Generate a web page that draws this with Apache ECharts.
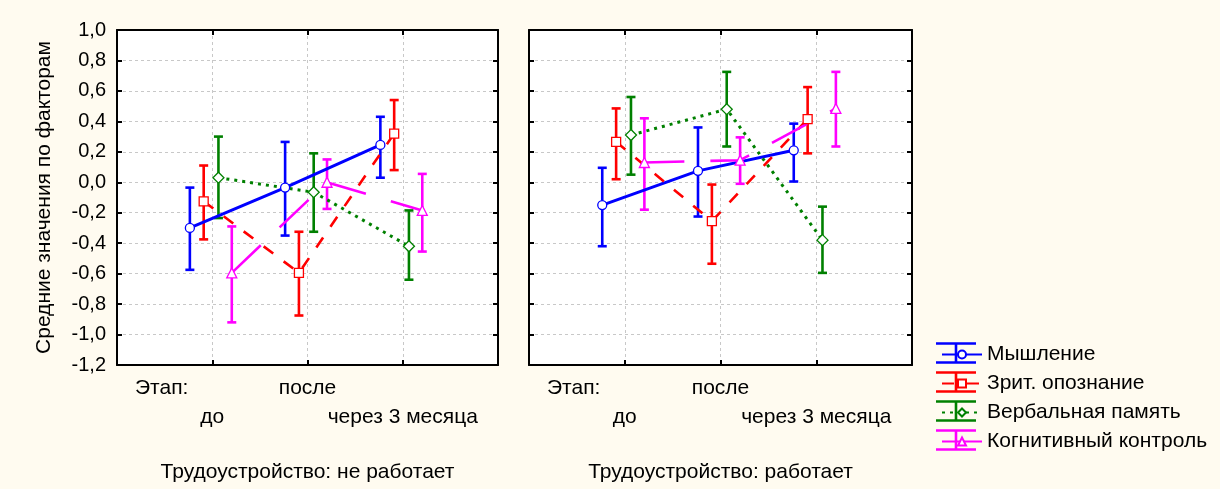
<!DOCTYPE html>
<html>
<head>
<meta charset="utf-8">
<script src="https://cdn.jsdelivr.net/npm/echarts@6/dist/echarts.min.js"></script>
<style>
html,body{margin:0;padding:0;background:#fffbf0;}
#c{width:1220px;height:489px;}
</style>
</head>
<body>
<div id="c"></div>
<script>
// ---- data ----
const stages = ['до', 'после', 'через 3 месяца'];
const panelTitles = ['Трудоустройство: не работает', 'Трудоустройство: работает'];
const factors = ['Мышление', 'Зрит. опознание', 'Вербальная память', 'Когнитивный контроль'];

// Трудоустройство: не работает (rows = factors, cols = stages)
const meanNotWorking = [
  [-0.30, -0.035, 0.245],
  [-0.125, -0.595, 0.32],
  [0.03, -0.065, -0.42],
  [-0.595, 0.0, -0.185]
];
const lowNotWorking = [
  [-0.575, -0.35, 0.03],
  [-0.375, -0.875, 0.08],
  [-0.235, -0.325, -0.64],
  [-0.92, -0.175, -0.455]
];
const highNotWorking = [
  [-0.035, 0.265, 0.43],
  [0.11, -0.325, 0.54],
  [0.30, 0.19, -0.185],
  [-0.29, 0.15, 0.055]
];
// Трудоустройство: работает
const meanWorking = [
  [-0.15, 0.075, 0.21],
  [0.265, -0.255, 0.415],
  [0.31, 0.48, -0.38],
  [0.13, 0.145, 0.485]
];
const lowWorking = [
  [-0.42, -0.225, 0.005],
  [0.02, -0.535, 0.19],
  [0.05, 0.235, -0.595],
  [-0.18, -0.01, 0.235]
];
const highWorking = [
  [0.095, 0.36, 0.385],
  [0.485, -0.015, 0.625],
  [0.56, 0.725, -0.16],
  [0.42, 0.295, 0.725]
];
const yMin = -1.2, yMax = 1.0, yStep = 0.2;

// ---- styles ----
const FONT = 'Liberation Sans, Arial, sans-serif';
const colors = ['#0000ff', '#ff0000', '#008000', '#ff00ff'];
const offsets = [-0.235, -0.09, 0.065, 0.205];
const symbols = ['circle', 'rect', 'diamond', 'triangle'];
const symbolSizes = [9, 9, 11, 10];
const lineTypes = ['solid', [12, 13], [3, 5], [40, 26]];
const lineWidths = [3, 2.6, 3, 2.6];

const chart = echarts.init(document.getElementById('c'));

const grids = [
  {left: 117, top: 30, width: 381, height: 335, show: true, backgroundColor: '#ffffff', borderWidth: 0},
  {left: 529, top: 30, width: 383, height: 335, show: true, backgroundColor: '#ffffff', borderWidth: 0}
];

const axisLine = {show: true, onZero: false, lineStyle: {color: '#000', width: 2}};
const tick = {show: true, inside: true, length: 5, lineStyle: {color: '#000', width: 2}};
const gridSplit = {show: true, lineStyle: {color: '#c8c8c8', type: [3, 3], width: 1}};
const xAxes = [], yAxes = [];
[0, 1].forEach(g => {
  xAxes.push({
    type: 'value', gridIndex: g, min: 0, max: 4, interval: 1, position: 'bottom',
    axisLine: axisLine, axisTick: tick, splitLine: gridSplit,
    axisLabel: {
      show: true, margin: 9, lineHeight: 29, fontSize: 21, color: '#000', fontFamily: FONT,
      formatter: v => {
        const i = Math.round(v) - 1;
        if (i < 0 || i >= stages.length) return '';
        return i % 2 === 0 ? '\n' + stages[i] : stages[i];
      }
    },
    name: panelTitles[g], nameLocation: 'middle', nameGap: 97,
    nameTextStyle: {fontSize: 21, color: '#000', fontFamily: FONT}
  });
  xAxes.push({
    type: 'value', gridIndex: g, min: 0, max: 4, interval: 1, position: 'top',
    axisLine: axisLine, axisTick: tick,
    splitLine: {show: false}, axisLabel: {show: false}
  });
  yAxes.push({
    type: 'value', gridIndex: g, min: yMin, max: yMax, interval: yStep, position: 'left',
    axisLine: axisLine, axisTick: tick, splitLine: gridSplit,
    axisLabel: {
      show: g === 0, margin: 11, fontSize: 20, color: '#000', fontFamily: FONT,
      formatter: v => v.toFixed(1).replace('.', ',').replace('-0,0', '0,0')
    },
    name: g === 0 ? 'Средние значения по факторам' : '',
    nameLocation: 'middle', nameGap: 62, nameRotate: 90,
    nameTextStyle: {fontSize: 21, color: '#000', fontFamily: FONT}
  });
  yAxes.push({
    type: 'value', gridIndex: g, min: yMin, max: yMax, interval: yStep, position: 'right',
    axisLine: axisLine, axisTick: tick,
    splitLine: {show: false}, axisLabel: {show: false}
  });
});

const panelMeans = [meanNotWorking, meanWorking];
const panelLows = [lowNotWorking, lowWorking];
const panelHighs = [highNotWorking, highWorking];

const series = [];
[0, 1].forEach(g => {
  factors.forEach((name, f) => {
    const bars = stages.map((s, i) => [i + 1 + offsets[f], panelLows[g][f][i], panelHighs[g][f][i]]);
    series.push({
      type: 'custom', name: name + ' err' + g, xAxisIndex: g * 2, yAxisIndex: g * 2, z: 2,
      data: bars, encode: {x: 0, y: [1, 2]}, silent: true,
      renderItem: (params, api) => {
        const x = api.value(0);
        const pLo = api.coord([x, api.value(1)]);
        const pHi = api.coord([x, api.value(2)]);
        const w = 4.5;
        const st = {stroke: colors[f], lineWidth: 2.6};
        return {type: 'group', children: [
          {type: 'line', shape: {x1: pLo[0], y1: pLo[1], x2: pHi[0], y2: pHi[1]}, style: st},
          {type: 'line', shape: {x1: pLo[0] - w, y1: pLo[1], x2: pLo[0] + w, y2: pLo[1]}, style: st},
          {type: 'line', shape: {x1: pHi[0] - w, y1: pHi[1], x2: pHi[0] + w, y2: pHi[1]}, style: st}
        ]};
      }
    });
  });
});
[0, 1].forEach(g => {
  factors.forEach((name, f) => {
    const pts = stages.map((s, i) => [i + 1 + offsets[f], panelMeans[g][f][i]]);
    series.push({
      type: 'line', name: name, xAxisIndex: g * 2, yAxisIndex: g * 2, z: 3,
      data: pts, symbol: symbols[f], symbolSize: symbolSizes[f], showSymbol: true,
      lineStyle: {color: colors[f], width: lineWidths[f], type: lineTypes[f], cap: 'butt'},
      itemStyle: {color: '#ffffff', borderColor: colors[f], borderWidth: 1.3},
      animation: false
    });
  });
});

// legend error-bar frames (decoration)
const graphics = [];
factors.forEach((name, f) => {
  const cy = 353 + f * 29;
  const st = {stroke: colors[f], lineWidth: 2.6};
  graphics.push({type: 'line', z: -1, shape: {x1: 936, y1: cy - 9.5, x2: 976, y2: cy - 9.5}, style: st});
  graphics.push({type: 'line', z: -1, shape: {x1: 936, y1: cy + 9.5, x2: 976, y2: cy + 9.5}, style: st});
  graphics.push({type: 'line', z: -1, shape: {x1: 956, y1: cy - 9.5, x2: 956, y2: cy + 9.5}, style: st});
});
graphics.push({type: 'text', left: 135, top: 378, style: {text: 'Этап:', fontSize: 21, fontFamily: FONT, fill: '#000'}});
graphics.push({type: 'text', left: 547, top: 378, style: {text: 'Этап:', fontSize: 21, fontFamily: FONT, fill: '#000'}});

chart.setOption({
  backgroundColor: '#fffbf0',
  animation: false,
  textStyle: {fontFamily: FONT},
  grid: grids,
  xAxis: xAxes,
  yAxis: yAxes,
  legend: {
    data: factors, orient: 'vertical', left: 936, top: 339,
    itemWidth: 40, itemHeight: 10, itemGap: 8,
    textStyle: {fontSize: 21, color: '#000', fontFamily: FONT},
    selectedMode: false
  },
  graphic: graphics,
  series: series
});
</script>
</body>
</html>
